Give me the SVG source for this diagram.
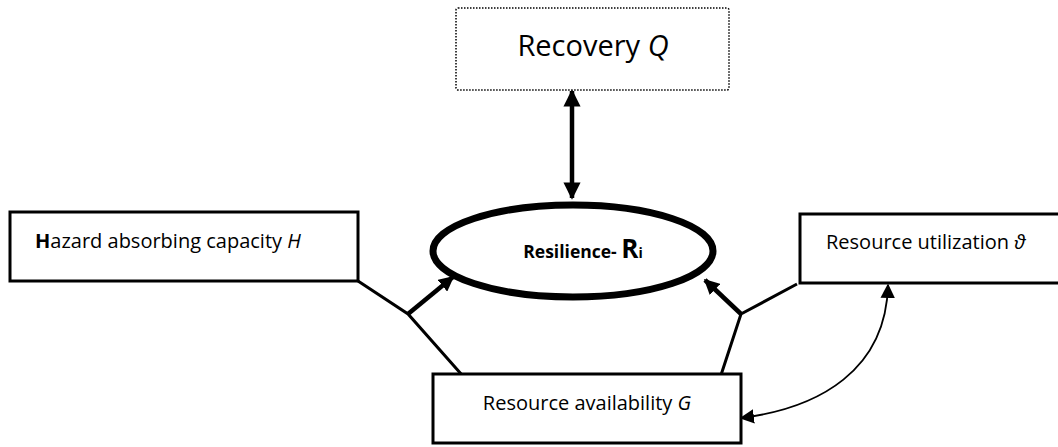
<svg xmlns="http://www.w3.org/2000/svg" width="1058" height="447" viewBox="0 0 1058 447">
<style>
.box{fill:#fff;stroke:#000;stroke-width:3}
.t{font-family:"Open Sans","Liberation Sans",Arial,sans-serif;fill:#000}
.ln{stroke:#000;stroke-width:3;fill:none}
.thick{stroke:#000;stroke-width:4.5;fill:none}
.thin{stroke:#000;stroke-width:1.8;fill:none}
</style>
<defs>
<marker id="ah" viewBox="0 0 10 10" refX="9" refY="5" markerWidth="4.4" markerHeight="3.8" orient="auto-start-reverse" markerUnits="strokeWidth">
<path d="M0,0 L10,5 L0,10 Z" fill="#000"/>
</marker>
<marker id="ah2" viewBox="0 0 10 10" refX="9" refY="5" markerWidth="3.4" markerHeight="3.4" orient="auto-start-reverse" markerUnits="strokeWidth">
<path d="M0,0 L10,5 L0,10 Z" fill="#000"/>
</marker>
<marker id="ah3" viewBox="0 0 10 10" refX="9" refY="5" markerWidth="8" markerHeight="8" orient="auto-start-reverse" markerUnits="strokeWidth">
<path d="M0,0 L10,5 L0,10 Z" fill="#000"/>
</marker>
</defs>
<g id="connectors">
<line class="thick" x1="572" y1="91" x2="572" y2="198" marker-start="url(#ah)" marker-end="url(#ah)"/>
<polyline class="ln" points="358,281 408,314 462,375"/>
<line class="thick" x1="408" y1="314" x2="453" y2="277" marker-end="url(#ah2)"/>
<polyline class="ln" points="797,284 741,314 721,375"/>
<line class="thick" x1="741" y1="314" x2="705" y2="280" marker-end="url(#ah2)"/>
<path class="thin" d="M741,418 C820,408 886,370 888,285" marker-start="url(#ah3)" marker-end="url(#ah3)"/>
</g>
<g id="recovery">
<rect x="456" y="8" width="273" height="82" rx="2" fill="#fff" stroke="#000" stroke-width="1.5" stroke-dasharray="1.5 1.5"/>
<text class="t" x="593" y="56" font-size="29" text-anchor="middle">Recovery <tspan font-style="italic">Q</tspan></text>
</g>
<g id="resilience">
<ellipse cx="573" cy="251" rx="140" ry="46" fill="#fff" stroke="#000" stroke-width="7"/>
<text class="t" x="583" y="258" font-size="17.5" font-weight="bold" text-anchor="middle">Resilience- <tspan font-size="26">R</tspan><tspan font-size="14">i</tspan></text>
</g>
<g id="hazard">
<rect class="box" x="10" y="212" width="348" height="69"/>
<text class="t" x="35" y="248" font-size="20"><tspan font-weight="bold">H</tspan>azard absorbing capacity <tspan font-style="italic">H</tspan></text>
</g>
<g id="utilization">
<rect class="box" x="800" y="214" width="262" height="69"/>
<text class="t" x="826" y="249" font-size="20">Resource utilization <tspan font-style="italic">ϑ</tspan></text>
</g>
<g id="availability">
<rect class="box" x="433" y="374" width="308" height="69"/>
<text class="t" x="587" y="410" font-size="20" text-anchor="middle">Resource availability <tspan font-style="italic">G</tspan></text>
</g>
</svg>
